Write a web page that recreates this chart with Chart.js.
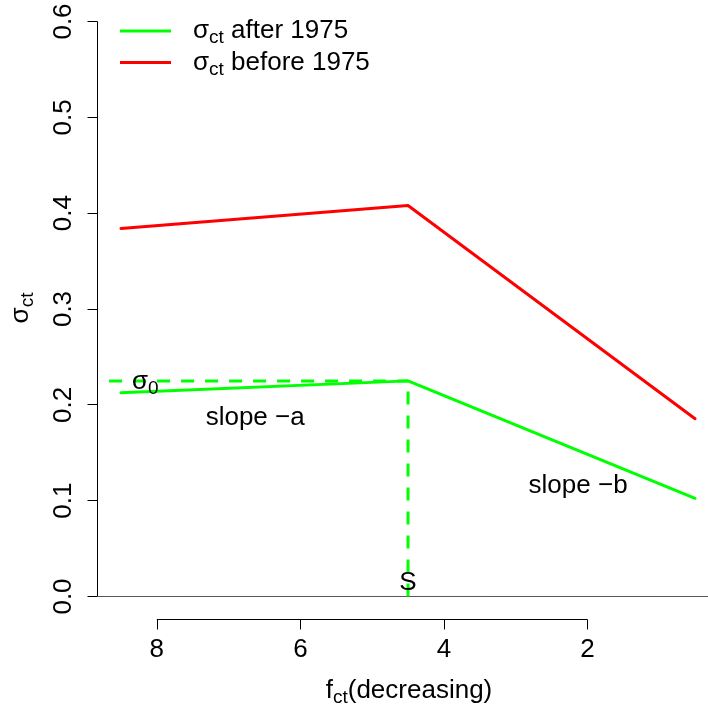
<!DOCTYPE html>
<html>
<head>
<meta charset="utf-8">
<script src="https://cdn.jsdelivr.net/npm/chart.js@4"></script>
<style>
  html, body { margin: 0; padding: 0; background: #fff; }
</style>
</head>
<body>
<canvas id="chart" width="708" height="710"></canvas>
<script>
// ─── DATA ───
const F_CT = [8.5, 4.5, 0.5];                 // x positions (axis reversed)
const SIGMA_AFTER = [0.2125, 0.225, 0.1025];  // green
const SIGMA_BEFORE = [0.384, 0.408, 0.1855];  // red
const SIGMA0 = 0.225;
const S_POINT = 4.5;
const X_TICKS = [8, 6, 4, 2];
const Y_TICKS = [0, 0.1, 0.2, 0.3, 0.4, 0.5, 0.6];
const LEGEND_TEXT = ['σ_{ct} after 1975', 'σ_{ct} before 1975'];
const NOTE_TEXT = ['σ_{0}', 'slope −a', 'slope −b', 'S'];
const NOTE_X = [8.16, 6.63, 2.13, 4.5];
const NOTE_Y = [0.226, 0.188, 0.117, 0.016];

const GREEN = '#00ff00', RED = '#ff0000';
const FONT = '"Liberation Sans", Arial, sans-serif';
const FS = 26, SUB_FS = 19, SUB_SHIFT = 5;

// ── rich text with _{sub} ──
function richParts(str) {
  const out = [], re = /_\{([^}]*)\}/g;
  let last = 0, m;
  while ((m = re.exec(str))) {
    if (m.index > last) out.push({ t: str.slice(last, m.index), sub: false });
    out.push({ t: m[1], sub: true });
    last = re.lastIndex;
  }
  if (last < str.length) out.push({ t: str.slice(last), sub: false });
  return out;
}

// draws at baseline y; align 'left' | 'center'
function drawRich(ctx, str, x, y, align) {
  const parts = richParts(str);
  let w = 0;
  parts.forEach(p => {
    ctx.font = (p.sub ? SUB_FS : FS) + 'px ' + FONT;
    p.w = ctx.measureText(p.t).width;
    w += p.w;
  });
  let cx = align === 'center' ? x - w / 2 : x;
  ctx.textAlign = 'left';
  ctx.textBaseline = 'alphabetic';
  parts.forEach(p => {
    ctx.font = (p.sub ? SUB_FS : FS) + 'px ' + FONT;
    ctx.fillText(p.t, cx, y + (p.sub ? SUB_SHIFT : 0));
    cx += p.w;
  });
}

// ── R-style axes, labels, legend, notes ──
const rDecor = {
  id: 'rDecor',
  afterDraw(chart) {
    const ctx = chart.ctx, xs = chart.scales.x, ys = chart.scales.y;
    ctx.save();
    ctx.strokeStyle = '#000';
    ctx.fillStyle = '#000';
    ctx.lineWidth = 1;

    // y axis
    const ax = Math.round(xs.left) - 0.5;
    ctx.beginPath();
    ctx.moveTo(ax, ys.getPixelForValue(Y_TICKS[0]));
    ctx.lineTo(ax, ys.getPixelForValue(Y_TICKS[Y_TICKS.length - 1]));
    Y_TICKS.forEach(v => {
      const py = Math.floor(ys.getPixelForValue(v)) + 0.5;
      ctx.moveTo(ax, py);
      ctx.lineTo(ax - 10, py);
    });
    ctx.stroke();
    ctx.font = FS + 'px ' + FONT;
    ctx.textAlign = 'center';
    ctx.textBaseline = 'alphabetic';
    Y_TICKS.forEach(v => {
      ctx.save();
      ctx.translate(71, ys.getPixelForValue(v));
      ctx.rotate(-Math.PI / 2);
      ctx.fillText(v.toFixed(1), 0, 0);
      ctx.restore();
    });

    // x axis
    const ay = Math.round(ys.bottom) + 0.5;
    ctx.beginPath();
    ctx.moveTo(xs.getPixelForValue(X_TICKS[0]), ay);
    ctx.lineTo(xs.getPixelForValue(X_TICKS[X_TICKS.length - 1]), ay);
    X_TICKS.forEach(v => {
      const px = Math.round(xs.getPixelForValue(v)) + 0.5;
      ctx.moveTo(px, ay);
      ctx.lineTo(px, ay + 10);
    });
    ctx.stroke();
    X_TICKS.forEach(v => ctx.fillText(String(v), xs.getPixelForValue(v), 657));

    // axis titles
    drawRich(ctx, 'f_{ct}(decreasing)', 409, 698, 'center');
    ctx.save();
    ctx.translate(28, 308);
    ctx.rotate(-Math.PI / 2);
    drawRich(ctx, 'σ_{ct}', 0, 0, 'center');
    ctx.restore();

    // legend
    const colors = [GREEN, RED];
    LEGEND_TEXT.forEach((t, i) => {
      const ly = 31 + i * 31.5;
      ctx.strokeStyle = colors[i];
      ctx.lineWidth = 3;
      ctx.beginPath();
      ctx.moveTo(120, ly);
      ctx.lineTo(171, ly);
      ctx.stroke();
      ctx.fillStyle = '#000';
      drawRich(ctx, t, 193, ly + 7, 'left');
    });

    // notes
    NOTE_TEXT.forEach((t, i) => {
      const px = xs.getPixelForValue(NOTE_X[i]);
      const py = ys.getPixelForValue(NOTE_Y[i]) + FS * 0.35;
      drawRich(ctx, t, px, py, 'center');
    });
    ctx.restore();
  }
};

const lineStyle = { pointRadius: 0, borderWidth: 3, borderCapStyle: 'round', borderJoinStyle: 'round', tension: 0, fill: false };
const dashStyle = { ...lineStyle, borderCapStyle: 'butt', borderDash: [13, 11] };

new Chart(document.getElementById('chart'), {
  type: 'line',
  data: {
    datasets: [
      { label: 'after', data: F_CT.map((x, i) => ({ x, y: SIGMA_AFTER[i] })), borderColor: GREEN, ...lineStyle },
      { label: 'before', data: F_CT.map((x, i) => ({ x, y: SIGMA_BEFORE[i] })), borderColor: RED, ...lineStyle },
      { label: 'sigma0', data: [{ x: 9, y: SIGMA0 }, { x: S_POINT, y: SIGMA0 }], borderColor: GREEN, ...dashStyle },
      { label: 'S', data: [{ x: S_POINT, y: 0 }, { x: S_POINT, y: SIGMA0 }], borderColor: GREEN, ...dashStyle },
      { label: 'zero', data: [{ x: 9, y: 0 }, { x: 0, y: 0 }], borderColor: '#555', ...lineStyle, borderWidth: 1 },
    ],
  },
  options: {
    responsive: false,
    animation: false,
    layout: { padding: { left: 98, right: 0, top: 0, bottom: 91 } },
    plugins: { legend: { display: false }, tooltip: { enabled: false } },
    scales: {
      x: { type: 'linear', reverse: true, min: 0.32, max: 8.82, display: false },
      y: { type: 'linear', min: -0.02348, max: 0.62244, display: false },
    },
  },
  plugins: [rDecor],
});
</script>
</body>
</html>
